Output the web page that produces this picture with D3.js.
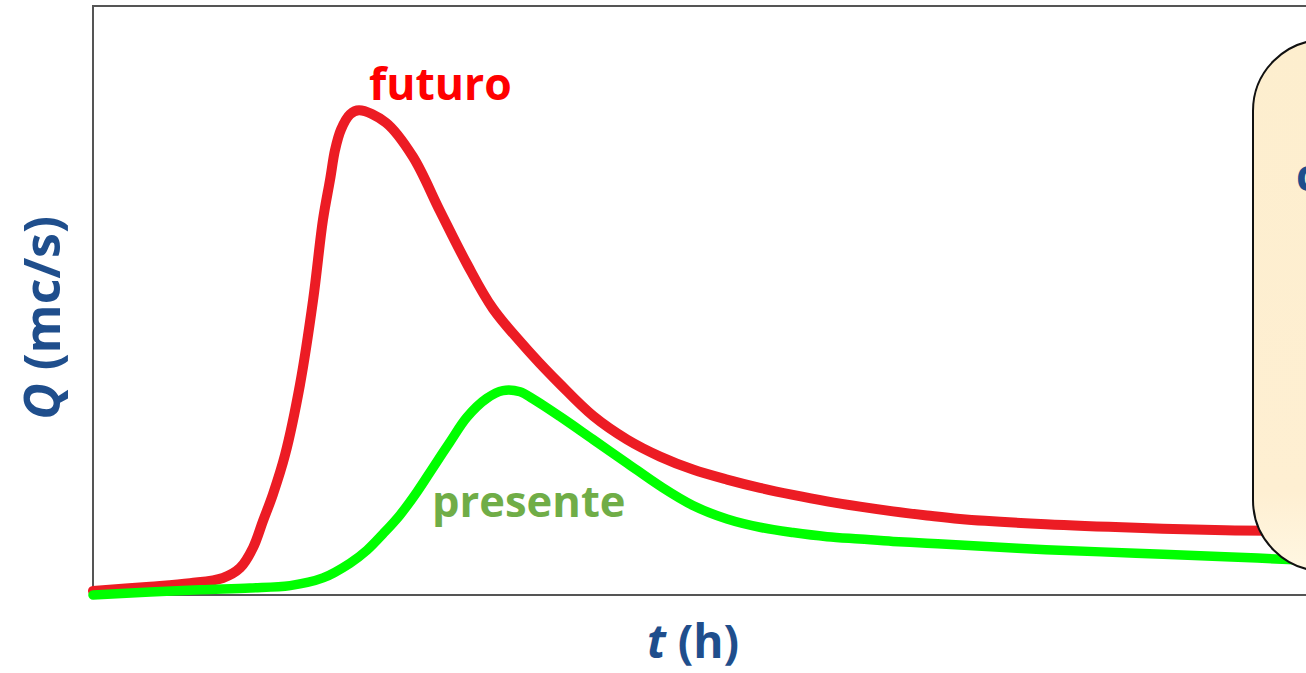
<!DOCTYPE html>
<html>
<head>
<meta charset="utf-8">
<script src="https://cdn.jsdelivr.net/npm/d3@7"></script>
<style>
  html, body { margin: 0; padding: 0; background: #ffffff; overflow: hidden; }
  svg { display: block; }
  text { font-family: "Open Sans", "Noto Sans", sans-serif; font-weight: 700; }
</style>
</head>
<body>
<svg id="chart" width="1306" height="673"></svg>
<script>
// ---- data (t in hours, Q in relative units of discharge) ----
const futuroT = [0, 2.26, 3.84, 5.14, 5.82, 6.33, 6.73, 7.12, 7.60, 8.19, 8.71, 9.10, 9.38, 9.58, 9.81, 10.17, 10.53, 11.59, 12.66, 13.73, 14.80, 15.83, 17.41, 18.48, 19.79, 21.13, 22.44, 23.74, 25.09, 26.39, 27.70, 29.05, 30.35, 31.66, 33.00, 34.31, 37.71, 41.27, 44.80, 48.00];
const futuroQ = [0.7, 1.4, 2.0, 2.9, 4.6, 8.0, 12.6, 17.1, 23.8, 35.7, 50.1, 63.7, 70.5, 75.6, 79.0, 81.6, 82.3, 80.2, 74.4, 65.2, 56.2, 48.6, 40.6, 35.8, 30.4, 26.4, 23.5, 21.3, 19.6, 18.2, 17.0, 15.9, 15.0, 14.2, 13.5, 12.9, 12.0, 11.4, 11.0, 10.9];

const presenteT = [0, 2.26, 4.23, 6.21, 7.80, 9.10, 10.17, 10.84, 11.48, 12.15, 12.82, 13.45, 14.13, 14.80, 15.59, 16.22, 16.90, 17.41, 18.48, 19.79, 21.13, 22.44, 23.74, 25.09, 26.39, 27.70, 29.05, 30.35, 31.66, 33.00, 34.31, 37.71, 41.27, 44.80, 48.00];
const presenteQ = [0.0, 0.5, 0.9, 1.2, 1.6, 2.9, 5.4, 7.6, 10.4, 13.6, 17.5, 21.6, 26.0, 30.2, 33.4, 34.7, 34.5, 33.3, 30.3, 26.4, 22.4, 18.5, 15.2, 12.9, 11.5, 10.6, 9.9, 9.5, 9.1, 8.8, 8.5, 7.7, 7.1, 6.5, 5.9];

const seriesNames = ["futuro", "presente"];
const xLabelItalic = "t";
const xLabelRest = " (h)";
const yLabelItalic = "Q";
const yLabelRest = " (mc/s)";
const boxText = "c";

// ---- layout ----
const svg = d3.select("#chart");

const x = d3.scaleLinear().domain([0, 48]).range([93, 1306]);
const y = d3.scaleLinear().domain([0, 100]).range([595, 6]);

// frame
svg.append("rect")
  .attr("x", x(0)).attr("y", y(100))
  .attr("width", 1400 - x(0)).attr("height", y(0) - y(100))
  .attr("fill", "none").attr("stroke", "#555").attr("stroke-width", 2);

const line = d3.line().curve(d3.curveCatmullRom.alpha(0.5))
  .x(d => x(d[0])).y(d => y(d[1]));

const futuro = futuroT.map((t, i) => [t, futuroQ[i]]);
const presente = presenteT.map((t, i) => [t, presenteQ[i]]);

svg.append("path").datum(futuro)
  .attr("d", line)
  .attr("fill", "none").attr("stroke", "#ec1c24")
  .attr("stroke-width", 10).attr("stroke-linecap", "round").attr("stroke-linejoin", "round");

svg.append("path").datum(presente)
  .attr("d", line)
  .attr("fill", "none").attr("stroke", "#00ff00")
  .attr("stroke-width", 9.5).attr("stroke-linecap", "round").attr("stroke-linejoin", "round");

// series labels
svg.append("text").attr("x", 369).attr("y", 100)
  .attr("font-size", 44.5).attr("fill", "#ff0000").text(seriesNames[0]);
svg.append("text").attr("x", 432).attr("y", 517)
  .attr("font-size", 43.5).attr("fill", "#70ad47").text(seriesNames[1]);

// axis titles
const blue = "#1f4e8c";
const xt = svg.append("text").attr("x", 693).attr("y", 658)
  .attr("text-anchor", "middle").attr("font-size", 46).attr("fill", blue);
xt.append("tspan").attr("font-style", "italic").text(xLabelItalic);
xt.append("tspan").text(xLabelRest);

const yt = svg.append("text")
  .attr("transform", "translate(60,318) rotate(-90)")
  .attr("text-anchor", "middle").attr("font-size", 50).attr("fill", blue);
yt.append("tspan").attr("font-style", "italic").text(yLabelItalic);
yt.append("tspan").text(yLabelRest);

// callout box on the right (cut by the page edge)
const defs = svg.append("defs");
const grad = defs.append("linearGradient").attr("id", "boxg")
  .attr("x1", "0").attr("y1", "0").attr("x2", "0").attr("y2", "1");
grad.append("stop").attr("offset", "0%").attr("stop-color", "#fdeece");
grad.append("stop").attr("offset", "85%").attr("stop-color", "#feefd2");
grad.append("stop").attr("offset", "100%").attr("stop-color", "#fff7e2");

svg.append("rect")
  .attr("x", 1253).attr("y", 40).attr("width", 260).attr("height", 531)
  .attr("rx", 71).attr("ry", 71)
  .attr("fill", "url(#boxg)").attr("stroke", "#111").attr("stroke-width", 2);

svg.append("text").attr("x", 1296).attr("y", 191)
  .attr("font-size", 44).attr("fill", blue).text(boxText);
</script>
</body>
</html>
